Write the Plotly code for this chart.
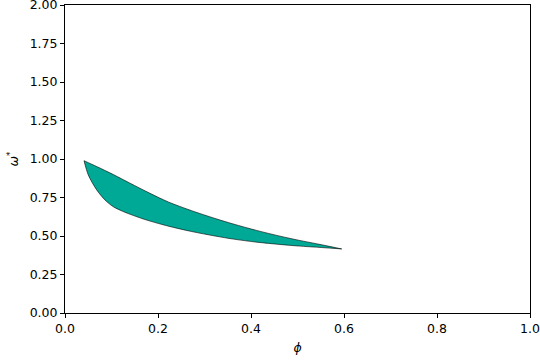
import plotly.graph_objects as go

# Upper boundary (left tip -> right tip)
upper_phi = [0.0409, 0.0682, 0.1039, 0.1398, 0.1828, 0.2222, 0.2725, 0.3226, 0.3619, 0.4123, 0.4624, 0.5017, 0.5520, 0.5951]
upper_omega = [0.989, 0.951, 0.899, 0.843, 0.777, 0.721, 0.664, 0.614, 0.578, 0.536, 0.499, 0.473, 0.443, 0.416]
# Lower boundary (left tip -> right tip)
lower_phi = [0.0409, 0.0501, 0.0682, 0.0860, 0.1039, 0.1290, 0.1650, 0.1828, 0.2222, 0.2725, 0.3226, 0.3619, 0.4123, 0.4624, 0.5017, 0.5520, 0.5951]
lower_omega = [0.989, 0.896, 0.799, 0.734, 0.690, 0.654, 0.614, 0.597, 0.564, 0.529, 0.500, 0.480, 0.460, 0.445, 0.435, 0.425, 0.416]

x_ticks = [0, 0.2, 0.4, 0.6, 0.8, 1.0]
x_labels = ["0.0", "0.2", "0.4", "0.6", "0.8", "1.0"]
y_ticks = [0, 0.25, 0.5, 0.75, 1.0, 1.25, 1.5, 1.75, 2.0]
y_labels = ["0.00", "0.25", "0.50", "0.75", "1.00", "1.25", "1.50", "1.75", "2.00"]

FILL = "#00A896"
FONT = "DejaVu Sans"

fig = go.Figure()
fig.add_trace(go.Scatter(
    x=upper_phi, y=upper_omega, mode="lines",
    line=dict(color="black", width=0.6, shape="spline", smoothing=0.8),
    hoverinfo="skip", showlegend=False,
))
fig.add_trace(go.Scatter(
    x=lower_phi, y=lower_omega, mode="lines", fill="tonexty", fillcolor=FILL,
    line=dict(color="black", width=0.6, shape="spline", smoothing=0.8),
    hoverinfo="skip", showlegend=False,
))

axis_common = dict(
    showgrid=False, zeroline=False, showline=True, linecolor="black", linewidth=1,
    mirror=True, ticks="outside", ticklen=4, tickcolor="black", tickwidth=1,
    tickfont=dict(family=FONT, size=12.5, color="black"),
    automargin=False, ticklabeloverflow="allow",
)
fig.update_layout(
    width=540, height=360,
    margin=dict(l=65, r=10, t=5, b=47),
    paper_bgcolor="white", plot_bgcolor="white",
    xaxis=dict(range=[0, 1], tickmode="array", tickvals=x_ticks, ticktext=x_labels,
               title=dict(text="<i>ϕ</i>", font=dict(family=FONT, size=12.5, color="black"), standoff=8),
               **axis_common),
    yaxis=dict(range=[0, 2], tickmode="array", tickvals=y_ticks, ticktext=y_labels,
               title=dict(text="<i>ω</i><sup>*</sup>", font=dict(family=FONT, size=12.5, color="black"), standoff=8),
               **axis_common),
)
fig.write_html("out.html", config={"displayModeBar": False},
               post_script="document.body.style.margin='0';document.body.style.overflow='hidden';")
